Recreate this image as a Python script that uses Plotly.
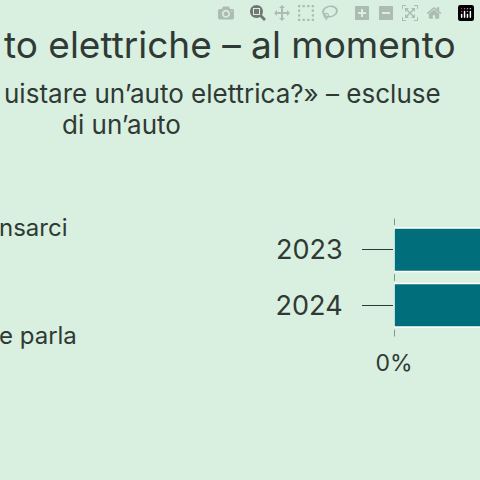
import plotly.graph_objects as go

years = ["2023", "2024"]
values = [45, 45]  # bars run past the visible edge
x_ticks = [0]
x_tick_labels = ["0%"]

title_text = "to elettriche – al momento"
subtitle_lines = ["uistare un’auto elettrica?» – escluse", "di un’auto"]
left_labels = ["nsarci", "e parla"]

BG = "#d9efdf"
TEAL = "#006f7b"
INK = "#2f3a36"

L, T, B = 394, 218, 143
plot_h = 480 - T - B


def px_x(px):
    return (px - L) / (480 - L)


def px_y(py):
    return (480 - B - py) / plot_h


fig = go.Figure(go.Bar(
    x=values, y=years, orientation="h",
    marker=dict(color=TEAL, line=dict(color="white", width=1.5)),
    hoverinfo="skip",
))

fig.update_layout(
    width=480, height=480,
    paper_bgcolor=BG, plot_bgcolor=BG,
    margin=dict(l=L, r=0, t=T, b=B),
    bargap=0.22, showlegend=False,
    font=dict(family="Inter", color=INK),
    xaxis=dict(range=[0, 10], tickvals=x_ticks, ticktext=x_tick_labels,
               showgrid=False, zeroline=False, tickfont=dict(size=23),
               ticks="", ticklabelstandoff=10),
    yaxis=dict(autorange="reversed", showgrid=False, zeroline=False,
               ticks="outside", ticklen=31, tickwidth=1, tickcolor=INK,
               tickfont=dict(size=27), ticklabelstandoff=14),
)

# little vertical ticks at the category edges
for yb in [-0.5, 0.5, 1.5]:
    fig.add_shape(type="line", xref="x", yref="y", x0=0, x1=0,
                  y0=yb - 0.06, y1=yb + 0.06, line=dict(color=INK, width=1))

anns = [
    (title_text, 2, 45, 37),
    (subtitle_lines[0], 2, 93, 26),
    (subtitle_lines[1], 60, 125, 26),
    (left_labels[0], -3, 227, 24),
    (left_labels[1], -3, 335, 24),
]
for txt, x, y, size in anns:
    fig.add_annotation(text=txt, xref="paper", yref="paper",
                       x=px_x(x), y=px_y(y), xanchor="left", yanchor="middle",
                       showarrow=False, font=dict(size=size, color=INK))

fig.write_html("out.html", post_script="document.body.style.margin='0';")
